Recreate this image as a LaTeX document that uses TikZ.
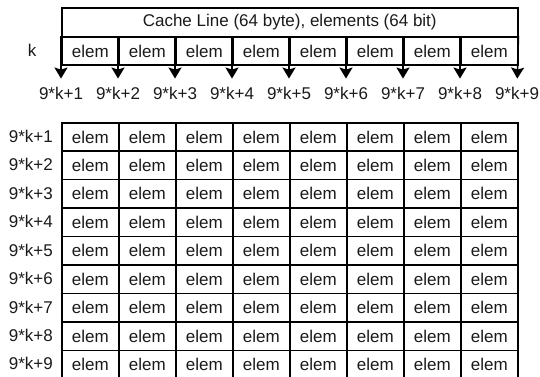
\documentclass[tikz,border=0pt]{standalone}
\usepackage{fontspec}
\setmainfont{Liberation Sans}
\usetikzlibrary{arrows.meta}

\newcommand{\cellFont}{\fontsize{17}{19}\selectfont}

\begin{document}
\begin{tikzpicture}[x=1pt, y=-1pt]
    % Define colours
    \definecolor{borderColour}{HTML}{000000}
    \definecolor{textColour}{HTML}{1A1A1A}

    % Define cell sizes
    \def\cellW{57}
    \def\cellH{28.45}
    \def\gridLeft{61}
    \def\gridTop{122}

    \tikzset{
        cell/.style={draw=borderColour, line width=1.5pt, minimum width=\cellW pt,
            minimum height=\cellH pt, inner sep=0pt, anchor=north west,
            font=\cellFont, text=textColour},
        indexLabel/.style={inner sep=0pt, font=\cellFont, text=textColour},
        splitArrow/.style={draw=borderColour, line width=1.5pt,
            -{Stealth[length=11pt, width=13pt, inset=2pt]}, shorten >=8pt}
    }

    \useasboundingbox (0,0) rectangle (540,376);

    % Draw the cache line
    \node[cell, minimum width=456pt, minimum height=29pt] (header) at (\gridLeft,7)
        {Cache Line (64 byte), elements (64 bit)};
    \foreach \i in {1,...,8}
        \node[cell] (top\i) at ({\gridLeft+\cellW*(\i-1)},36) {elem};
    \node[indexLabel] (kLabel) at (32,50) {k};

    % Split points and arrows
    \foreach \i in {1,...,8}
        \coordinate (split\i) at (top\i.north west);
    \coordinate (split9) at (top8.north east);
    \foreach \i in {1,...,9} {
        \node[indexLabel] (idx\i) at ({\gridLeft+\cellW*(\i-1)},93) {9*k+\i};
        \draw[splitArrow] (split\i) -- (idx\i.north);
    }

    % Draw the element grid
    \foreach \r in {1,...,9} {
        \node[indexLabel, anchor=east] (row\r) at (53,{\gridTop+\cellH*(\r-0.5)}) {9*k+\r};
        \foreach \c in {1,...,8}
            \node[cell] (g\r-\c) at ({\gridLeft+\cellW*(\c-1)},{\gridTop+\cellH*(\r-1)}) {elem};
    }

\end{tikzpicture}
\end{document}
